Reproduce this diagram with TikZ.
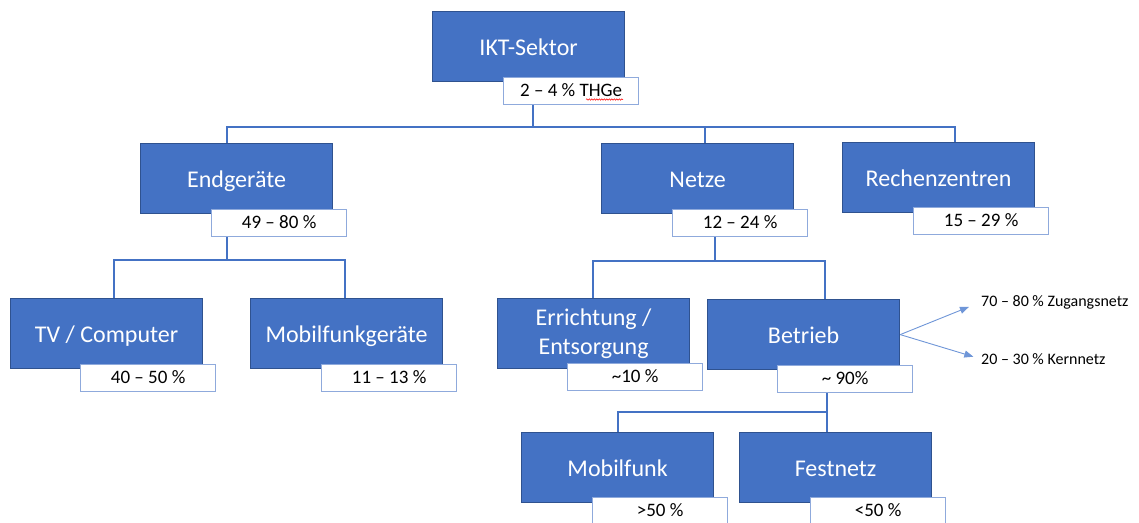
\documentclass[tikz,border=0pt]{standalone}
\usepackage{fontspec}
\setmainfont{Carlito}
\usetikzlibrary{arrows.meta,decorations.pathmorphing}
\definecolor{boxblue}{HTML}{4472C4}
\definecolor{boxedge}{HTML}{2F528F}
\definecolor{lbledge}{HTML}{8FAADC}
\definecolor{arrblue}{HTML}{6F96D8}
\begin{document}
\begin{tikzpicture}[x=1pt,y=-1pt,
  mainbox/.style={draw=boxedge,line width=1.2pt,fill=boxblue,text=white,
    minimum width=192pt,minimum height=70pt,anchor=north west,inner sep=2pt,
    text height=21pt,text depth=3pt,
    align=center,font=\fontsize{24}{29}\selectfont},
  twoline/.style={text height=,text depth=},
  lbl/.style={draw=lbledge,line width=1.2pt,fill=white,text=black,
    minimum width=135pt,minimum height=27pt,anchor=north west,inner sep=1pt,
    text height=14.5pt,text depth=3pt,
    font=\fontsize{19}{22}\selectfont},
  conn/.style={draw=boxblue,line width=1.5pt},
  arr/.style={draw=arrblue,line width=0.9pt,-{Triangle[length=9pt,width=7pt]}},
  side/.style={anchor=west,inner sep=0pt,font=\fontsize{16}{19}\selectfont}]
\clip (0,0) rectangle (1139,522);
\fill[white] (0,0) rectangle (1139,522);
% junction coordinates
\coordinate (t0) at (533,127);
\coordinate (dendg) at (227,127);
\coordinate (dnetze) at (705,127);
\coordinate (drz) at (955,127);
\coordinate (t1) at (227,260);
\coordinate (dtv) at (114,260);
\coordinate (dmob) at (345,260);
\coordinate (t2) at (715,261);
\coordinate (derr) at (593,261);
\coordinate (dbet) at (825,261);
\coordinate (t3) at (827,412);
\coordinate (dmf) at (618,412);
% boxes
\node[mainbox] (ikt) at (432,11) {IKT-Sektor};
\node[mainbox] (endg) at (140,143) {Endgeräte};
\node[mainbox] (netze) at (601,143) {Netze};
\node[mainbox] (rz) at (842,142) {Rechenzentren};
\node[mainbox] (tv) at (10,298) {TV / Computer};
\node[mainbox] (mob) at (250,298) {Mobilfunkgeräte};
\node[mainbox,twoline] (err) at (497,298) {Errichtung /\\Entsorgung};
\node[mainbox] (bet) at (707,299) {Betrieb};
\node[mainbox] (mf) at (521,432) {Mobilfunk};
\node[mainbox] (fest) at (739,432) {Festnetz};
% labels
\node[lbl] (iktl) at (503,77) {2 – 4 \% THGe};
\node[lbl] (endgl) at (211,209) {49 – 80 \%};
\node[lbl] (netzel) at (672,209) {12 – 24 \%};
\node[lbl] (rzl) at (913,207) {15 – 29 \%};
\node[lbl] (tvl) at (80,364) {40 – 50 \%};
\node[lbl] (mobl) at (321,364) {11 – 13 \%};
\node[lbl] (errl) at (567,363) {\textasciitilde10 \%};
\node[lbl] (betl) at (777,365) {\textasciitilde{} 90\%};
\node[lbl] (mfl) at (592,497) {>50 \%};
\node[lbl] (festl) at (810,497) {<50 \%};
% spell-check underline
\draw[red,line width=0.5pt,decorate,decoration={snake,amplitude=0.7pt,segment length=2.5pt}] (586,99.5) -- (623,99.5);
% connectors
\draw[conn] (t0 |- iktl.south) -- (t0);
\draw[conn] (dendg |- endg.north) -- (dendg) -- (drz) -- (drz |- rz.north);
\draw[conn] (dnetze) -- (dnetze |- netze.north);
\draw[conn] (t1 |- endgl.south) -- (t1);
\draw[conn] (dtv |- tv.north) -- (dtv) -- (dmob) -- (dmob |- mob.north);
\draw[conn] (t2 |- netzel.south) -- (t2);
\draw[conn] (derr |- err.north) -- (derr) -- (dbet) -- (dbet |- bet.north);
\draw[conn] (t3 |- betl.south) -- (t3 |- fest.north);
\draw[conn] (t3) -- (dmf) -- (dmf |- mf.north);
% side notes
\node[side] (zug) at (981,302) {70 – 80 \% Zugangsnetz};
\node[side] (kern) at (981,359) {20 – 30 \% Kernnetz};
\draw[arr,shorten >=13pt] (bet.east) -- (zug.west);
\draw[arr,shorten >=8pt] (bet.east) -- (kern.west);
\end{tikzpicture}
\end{document}
